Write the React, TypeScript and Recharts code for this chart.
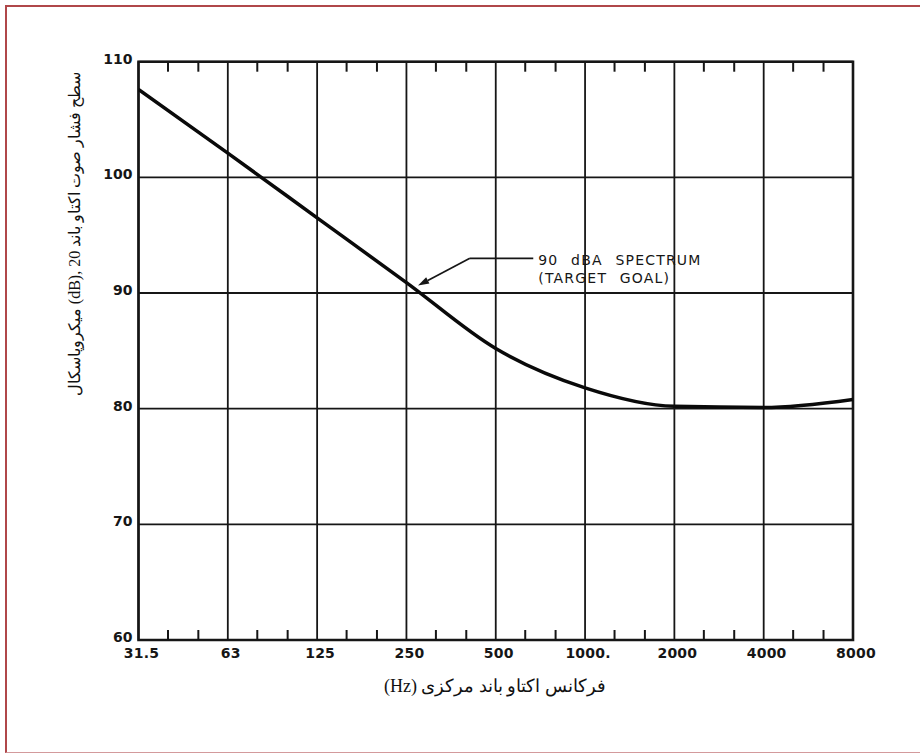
import { LineChart, Line, XAxis, YAxis, CartesianGrid, ReferenceLine, ReferenceArea } from 'recharts';

// octave band centre frequencies (x categories) and the 90 dBA target curve
const FREQ_LABELS = ['31.5', '63', '125', '250', '500', '1000.', '2000', '4000', '8000'];
const LEVELS = [107.6, 102.1, 96.5, 90.9, 85.2, 81.8, 80.2, 80.1, 80.8];
const Y_TICKS = [60, 70, 80, 90, 100, 110];
const X_TICKS = [0, 1, 2, 3, 4, 5, 6, 7, 8];
const MINOR_TICKS = [0.33, 0.67, 1.33, 1.67, 2.33, 2.67, 3.33, 3.67, 4.33, 4.67, 5.33, 5.67, 6.33, 6.67, 7.33, 7.67];

// annotation leader, in axis units (band index, dB)
const LEADER_TEXT = [4.42, 93.0];
const LEADER_ELBOW = [3.71, 93.0];
const LEADER_TIP = [3.13, 90.65];
const NOTE_LINES = ['90 dBA SPECTRUM', '(TARGET GOAL)'];

const Y_TITLE = 'سطح فشار صوت اکتاو باند 20 ,(dB) میکروپاسکال';
const X_TITLE = 'فرکانس اکتاو باند مرکزی (Hz)';

const data = LEVELS.map((level, i) => ({ x: i, level }));

const INK = '#161616';
const tickFont = '"DejaVu Sans", sans-serif';

const FreqTick = (props: any) => {
  const { x, y, payload } = props;
  return (
    <text x={x + 3} y={y + 18} textAnchor="middle" fontFamily={tickFont} fontSize={14} fontWeight="bold" letterSpacing={0.2} fill={INK}>
      {FREQ_LABELS[payload.value]}
    </text>
  );
};

const LevelTick = (props: any) => {
  const { x, y, payload } = props;
  return (
    <text x={x} y={y - 3} dy="0.355em" textAnchor="end" fontFamily={tickFont} fontSize={14} fontWeight="bold" fill={INK}>
      {payload.value}
    </text>
  );
};

const NoteShape = (p: any) => (
  <g>
    <line x1={p.x1} y1={p.y1} x2={p.x2} y2={p.y2} stroke={INK} strokeWidth={1.7} />
    {NOTE_LINES.map((t, i) => (
      <text key={t} x={p.x1 + 5} y={p.y1 + 7 + i * 18} fontFamily={tickFont} fontSize={14} letterSpacing={1.2} wordSpacing={7} fill={INK}>
        {t}
      </text>
    ))}
  </g>
);

const ArrowShape = (p: any) => {
  const a = Math.atan2(p.y2 - p.y1, p.x2 - p.x1);
  const len = 11;
  const w = 3.5;
  const bx = p.x2 - len * Math.cos(a);
  const by = p.y2 - len * Math.sin(a);
  const nx = -Math.sin(a) * w;
  const ny = Math.cos(a) * w;
  return (
    <g>
      <line x1={p.x1} y1={p.y1} x2={bx} y2={by} stroke={INK} strokeWidth={1.7} />
      <polygon points={`${p.x2},${p.y2} ${bx + nx},${by + ny} ${bx - nx},${by - ny}`} fill={INK} />
    </g>
  );
};

// short inward ticks on the top and bottom frame at a minor position
const MinorTickShape = (p: any) => {
  const top = Math.min(p.y1, p.y2);
  const bottom = Math.max(p.y1, p.y2);
  return (
    <g>
      <line x1={p.x1} y1={top} x2={p.x1} y2={top + 10} stroke={INK} strokeWidth={2} />
      <line x1={p.x1} y1={bottom - 10} x2={p.x1} y2={bottom} stroke={INK} strokeWidth={2} />
    </g>
  );
};

export default function App() {
  return (
    <div style={{ position: 'absolute', left: 0, top: 0, width: 920, height: 754, overflow: 'hidden', background: '#fff' }}>
      <div
        style={{
          position: 'absolute',
          left: 5,
          top: 5,
          width: 940,
          height: 745,
          borderTop: '2.5px solid #b0474a',
          borderLeft: '2.5px solid #b0474a',
          borderBottom: '1.5px solid #d39a9c',
        }}
      />
      <div style={{ position: 'absolute', left: 0, top: 0 }}>
        <LineChart width={920} height={754} data={data} margin={{ top: 61.7, right: 67, bottom: 84, left: 0 }}>
          <CartesianGrid stroke={INK} strokeWidth={1.8} />
          <XAxis
            dataKey="x"
            type="number"
            domain={[0, 8]}
            ticks={X_TICKS}
            interval={0}
            tick={<FreqTick />}
            tickLine={false}
            tickSize={0}
            tickMargin={0}
            axisLine={false}
            height={30}
            allowDataOverflow
          />
          <YAxis
            domain={[60, 110]}
            ticks={Y_TICKS}
            interval={0}
            width={138.5}
            tickLine={false}
            axisLine={false}
            tickSize={4}
            tickMargin={2}
            tick={<LevelTick />}
            allowDataOverflow
          />
          <ReferenceArea x1={0} x2={8} y1={60} y2={110} fill="none" stroke={INK} strokeWidth={2.6} ifOverflow="visible" />
          {MINOR_TICKS.map((t) => (
            <ReferenceLine key={t} x={t} ifOverflow="visible" shape={MinorTickShape} />
          ))}
          <ReferenceLine
            segment={[{ x: LEADER_ELBOW[0], y: LEADER_ELBOW[1] }, { x: LEADER_TEXT[0], y: LEADER_TEXT[1] }]}
            ifOverflow="visible"
            shape={(p: any) => <NoteShape {...p} x1={p.x2} y1={p.y2} x2={p.x1} y2={p.y1} />}
          />
          <ReferenceLine
            segment={[{ x: LEADER_ELBOW[0], y: LEADER_ELBOW[1] }, { x: LEADER_TIP[0], y: LEADER_TIP[1] }]}
            ifOverflow="visible"
            shape={ArrowShape}
          />
          <Line
            type="monotone"
            dataKey="level"
            stroke="#0a0a0a"
            strokeWidth={3.5}
            dot={false}
            activeDot={false}
            isAnimationActive={false}
          />
        </LineChart>
      </div>
      <div
        dir="rtl"
        style={{
          position: 'absolute',
          left: 74,
          top: 234,
          transform: 'translate(-50%, -50%) rotate(-90deg)',
          whiteSpace: 'nowrap',
          fontFamily: '"Liberation Serif", "DejaVu Serif", serif',
          fontSize: 16,
          color: '#111',
        }}
      >
        {Y_TITLE}
      </div>
      <div
        dir="rtl"
        style={{
          position: 'absolute',
          left: 495,
          top: 686,
          transform: 'translate(-50%, -50%)',
          whiteSpace: 'nowrap',
          fontFamily: '"Liberation Serif", "DejaVu Serif", serif',
          fontSize: 18,
          color: '#111',
        }}
      >
        {X_TITLE}
      </div>
    </div>
  );
}
